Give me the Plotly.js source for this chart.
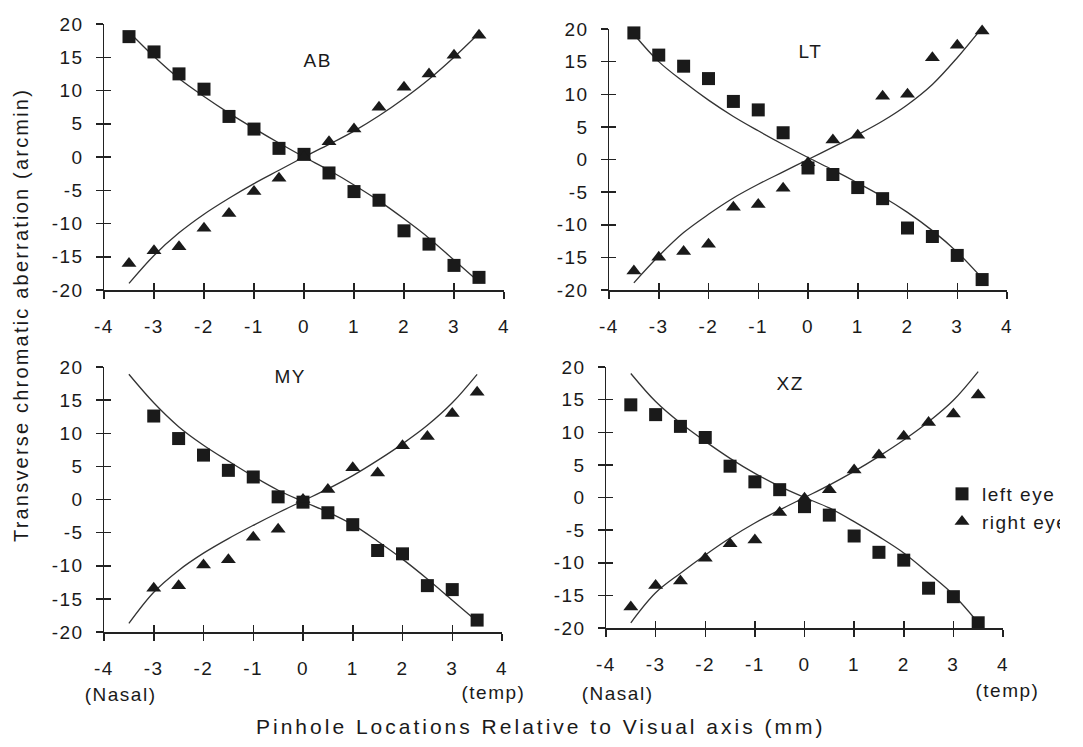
<!DOCTYPE html>
<html>
<head>
<meta charset="utf-8">
<script src="https://cdn.plot.ly/plotly-3.0.1.min.js"></script>
<style>
  html, body { margin: 0; padding: 0; background: #fff; }
  #chart { width: 1083px; height: 747px; }
  #chart text { letter-spacing: 1.5px; }
  #chart .annotation[data-index="8"] text { letter-spacing: 3px; }
  #chart .annotation[data-index="9"] text { letter-spacing: 2.2px; }
</style>
</head>
<body>
<div id="chart"></div>
<script>
// Pinhole locations (mm)
const pinholeX = [-3.5, -3, -2.5, -2, -1.5, -1, -0.5, 0, 0.5, 1, 1.5, 2, 2.5, 3, 3.5];
const panelNames = ["AB", "LT", "MY", "XZ"];

// Measured transverse chromatic aberration (arcmin), left eye (squares)
const abLeft  = [18.1, 15.8, 12.5, 10.2, 6.1, 4.2, 1.3, 0.4, -2.4, -5.2, -6.5, -11.1, -13.1, -16.3, -18.1];
const ltLeft  = [19.4, 16.0, 14.3, 12.4, 8.9, 7.6, 4.1, -1.3, -2.3, -4.3, -6.0, -10.5, -11.8, -14.7, -18.4];
const myLeft  = [null, 12.6, 9.2, 6.7, 4.4, 3.4, 0.4, -0.4, -2.0, -3.8, -7.7, -8.2, -13.0, -13.6, -18.2];
const xzLeft  = [14.2, 12.7, 10.9, 9.2, 4.8, 2.4, 1.2, -1.4, -2.7, -5.9, -8.4, -9.6, -13.9, -15.2, -19.2];

// Right eye (triangles)
const abRight = [-16.0, -14.1, -13.5, -10.7, -8.5, -5.2, -3.2, 0.0, 2.3, 4.2, 7.5, 10.5, 12.5, 15.3, 18.3];
const ltRight = [-17.1, -15.0, -14.1, -13.0, -7.3, -6.9, -4.4, -0.5, 3.0, 3.7, 9.7, 10.0, 15.6, 17.5, 19.7];
const myRight = [null, -13.4, -13.0, -9.9, -9.1, -5.7, -4.5, 0.0, 1.5, 4.8, 4.0, 8.1, 9.5, 13.0, 16.2];
const xzRight = [-16.8, -13.5, -12.8, -9.3, -7.1, -6.5, -2.3, -0.1, 1.2, 4.2, 6.5, 9.4, 11.5, 12.8, 15.7];

// Fitted curves at the pinhole locations
const abLeftFit  = [18.8, 15.1, 11.8, 9.1, 6.6, 4.3, 2.1, 0.0, -2.0, -4.2, -6.6, -9.3, -12.2, -15.5, -18.8];
const abRightFit = [-19.0, -14.8, -11.4, -8.6, -6.2, -4.0, -2.0, 0.0, 1.9, 3.9, 6.2, 8.8, 11.7, 15.0, 18.6];
const ltLeftFit  = [19.2, 15.0, 11.9, 9.1, 6.6, 4.4, 2.3, 0.3, -1.6, -3.6, -5.7, -8.1, -10.9, -14.2, -18.2];
const ltRightFit = [-18.9, -14.8, -11.2, -8.4, -5.9, -3.8, -1.9, 0.0, 1.9, 3.8, 5.9, 8.4, 11.5, 15.6, 20.2];
const myLeftFit  = [18.9, 14.6, 11.0, 8.2, 5.8, 3.5, 1.4, -0.3, -1.9, -3.8, -6.3, -9.0, -12.0, -15.2, -18.4];
const myRightFit = [-18.7, -14.0, -10.7, -8.1, -5.9, -3.9, -2.0, -0.2, 1.6, 3.6, 5.9, 8.4, 11.2, 14.6, 18.9];
const xzLeftFit  = [19.0, 14.7, 11.4, 8.6, 6.0, 3.7, 1.7, 0.0, -1.6, -3.7, -6.0, -8.5, -11.6, -14.9, -19.2];
const xzRightFit = [-19.2, -14.6, -11.6, -8.8, -6.2, -3.9, -1.9, 0.0, 1.9, 4.0, 6.3, 8.8, 11.6, 14.9, 19.3];

const xTicks = [-4, -3, -2, -1, 0, 1, 2, 3, 4];
const yTicks = [-20, -15, -10, -5, 0, 5, 10, 15, 20];
const legendLabels = ["left eye", "right eye"];
const yTitle = "Transverse chromatic aberration (arcmin)";
const xTitle = "Pinhole Locations Relative to Visual axis (mm)";
const nasalLabel = "(Nasal)";
const tempLabel = "(temp)";

const leftSets = [abLeft, ltLeft, myLeft, xzLeft];
const rightSets = [abRight, ltRight, myRight, xzRight];
const leftFits = [abLeftFit, ltLeftFit, myLeftFit, xzLeftFit];
const rightFits = [abRightFit, ltRightFit, myRightFit, xzRightFit];

const FONT = "Liberation Sans, Arial, sans-serif";
const INK = "#1a1a1a";

const traces = [];
for (let i = 0; i < 4; i++) {
  const ax = i === 0 ? "x" : "x" + (i + 1);
  const ay = i === 0 ? "y" : "y" + (i + 1);
  traces.push({
    x: pinholeX, y: leftFits[i], xaxis: ax, yaxis: ay, mode: "lines",
    line: { color: "#333", width: 1.3, shape: "spline", smoothing: 1 },
    showlegend: false, hoverinfo: "skip", cliponaxis: false
  });
  traces.push({
    x: pinholeX, y: rightFits[i], xaxis: ax, yaxis: ay, mode: "lines",
    line: { color: "#333", width: 1.3, shape: "spline", smoothing: 1 },
    showlegend: false, hoverinfo: "skip", cliponaxis: false
  });
  traces.push({
    x: pinholeX, y: leftSets[i], xaxis: ax, yaxis: ay, mode: "markers",
    name: legendLabels[0], legendgroup: "L", showlegend: i === 0,
    marker: { symbol: "square", size: 13, color: INK }, cliponaxis: false
  });
  traces.push({
    x: pinholeX, y: rightSets[i], xaxis: ax, yaxis: ay, mode: "markers",
    name: legendLabels[1], legendgroup: "R", showlegend: i === 0,
    marker: { symbol: "triangle-up", size: 13, color: INK }, cliponaxis: false
  });
  // overlay axes carrying the inward half of the crossing ticks
  traces.push({
    x: [0], y: [0], xaxis: "x" + (i + 5), yaxis: "y" + (i + 5), mode: "markers",
    marker: { size: 0, opacity: 0 }, showlegend: false, hoverinfo: "skip"
  });
}

const W = 1083, H = 747;
const boxes = [
  { l: 104, r: 504, t: 24, b: 290 },
  { l: 609, r: 1007, t: 29, b: 290 },
  { l: 104, r: 502, t: 367, b: 632 },
  { l: 606, r: 1003, t: 367, b: 628 }
];

const layout = {
  width: W, height: H,
  margin: { l: 0, r: 0, t: 0, b: 0 },
  paper_bgcolor: "#fff", plot_bgcolor: "rgba(0,0,0,0)",
  font: { family: FONT, size: 19, color: INK },
  showlegend: true,
  legend: {
    x: 942 / W, y: 1 - 475 / H, xanchor: "left", yanchor: "top",
    bgcolor: "rgba(0,0,0,0)", font: { family: FONT, size: 19, color: INK },
    itemclick: false, tracegroupgap: 0
  },
  annotations: [],
  hovermode: false
};

for (let i = 0; i < 4; i++) {
  const b = boxes[i];
  const xd = [b.l / W, b.r / W];
  const yd = [1 - b.b / H, 1 - b.t / H];
  const xn = i === 0 ? "xaxis" : "xaxis" + (i + 1);
  const yn = i === 0 ? "yaxis" : "yaxis" + (i + 1);
  const yref = i === 0 ? "y" : "y" + (i + 1);
  const xref = i === 0 ? "x" : "x" + (i + 1);
  layout[xn] = {
    domain: xd, anchor: yref, range: [-4, 4], tickvals: xTicks, ticktext: xTicks.map(String),
    showgrid: false, zeroline: false, showline: true, linecolor: "#222", linewidth: 1.5,
    ticks: "outside", ticklen: 7, tickwidth: 1.5, tickcolor: "#222",
    ticklabelstandoff: 12, tickfont: { family: FONT, size: 19, color: INK }, fixedrange: true
  };
  layout[yn] = {
    domain: yd, anchor: xref, range: [-20, 20], tickvals: yTicks, ticktext: yTicks.map(String),
    showgrid: false, zeroline: false, showline: true, linecolor: "#222", linewidth: 1.5,
    ticks: "outside", ticklen: 7, tickwidth: 1.5, tickcolor: "#222",
    ticklabelstandoff: 8, tickfont: { family: FONT, size: 19, color: INK }, fixedrange: true
  };
  layout["xaxis" + (i + 5)] = {
    domain: xd, anchor: "y" + (i + 5), range: [-4, 4], tickvals: xTicks,
    showticklabels: false, showgrid: false, zeroline: false, showline: false,
    ticks: "inside", ticklen: 7, tickwidth: 1.5, tickcolor: "#222", fixedrange: true
  };
  layout["yaxis" + (i + 5)] = {
    domain: yd, anchor: "x" + (i + 5), range: [-20, 20], tickvals: yTicks,
    showticklabels: false, showgrid: false, zeroline: false, showline: false,
    ticks: "inside", ticklen: 7, tickwidth: 1.5, tickcolor: "#222", fixedrange: true
  };
}

const namePos = [[317, 60], [810, 52], [290, 376], [790, 383]];
for (let i = 0; i < 4; i++) {
  layout.annotations.push({
    text: panelNames[i], xref: "paper", yref: "paper",
    x: namePos[i][0] / W, y: 1 - namePos[i][1] / H, xanchor: "center", yanchor: "middle",
    showarrow: false, font: { family: FONT, size: 19, color: INK }
  });
}
[[120, 694, nasalLabel], [617, 693, nasalLabel], [493, 692, tempLabel], [1007, 690, tempLabel]].forEach(p => {
  layout.annotations.push({
    text: p[2], xref: "paper", yref: "paper", x: p[0] / W, y: 1 - p[1] / H,
    xanchor: "center", yanchor: "middle", showarrow: false,
    font: { family: FONT, size: 19, color: INK }
  });
});
layout.annotations.push({
  text: xTitle, xref: "paper", yref: "paper", x: 540 / W, y: 1 - 726 / H,
  xanchor: "center", yanchor: "middle", showarrow: false,
  font: { family: FONT, size: 21, color: INK }
});
layout.annotations.push({
  text: yTitle, xref: "paper", yref: "paper", x: 21 / W, y: 1 - 315 / H,
  xanchor: "center", yanchor: "middle", showarrow: false, textangle: -90,
  font: { family: FONT, size: 20, color: INK }
});

Plotly.newPlot("chart", traces, layout, { staticPlot: true, displayModeBar: false });
</script>
</body>
</html>
